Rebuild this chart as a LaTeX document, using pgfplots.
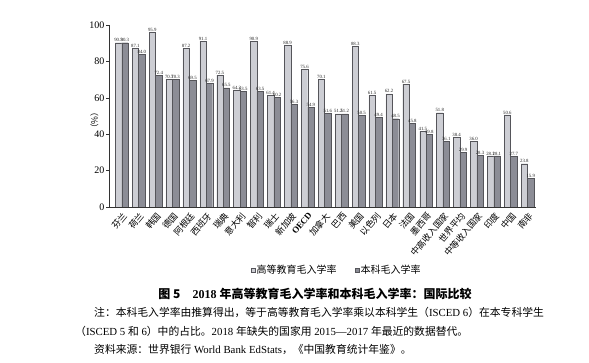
\documentclass[border=0pt]{standalone}
\usepackage{fontspec}
\setmainfont{Liberation Serif}
\newfontfamily\cjk{Noto Sans CJK SC}
\usepackage{pgfplots}
\pgfplotsset{compat=1.18}
\usepackage{pgfplotstable}
\definecolor{lightbar}{RGB}{205,206,212}
\definecolor{darkbar}{RGB}{140,141,150}
\definecolor{edge}{RGB}{85,85,90}
\pgfplotsset{/pgf/number format/assume math mode=true}
\pgfplotstableread{
x a b
0 90.3 90.3
1 87.1 84.0
2 95.9 72.4
3 70.3 70.3
4 87.2 69.5
5 91.1 67.9
6 72.5 65.5
7 64.3 63.5
8 90.9 63.5
9 61.4 60.2
10 88.9 56.3
11 75.6 54.9
12 70.1 51.6
13 51.2 51.2
14 88.3 50.5
15 61.5 49.4
16 62.2 48.5
17 67.5 45.8
18 41.5 39.8
19 51.8 36.1
20 38.4 29.9
21 36.0 28.3
22 28.1 28.1
23 50.6 27.7
24 23.8 15.9
}\data
\begin{document}
\begin{tikzpicture}
\path[use as bounding box] (0,0) rectangle (589pt,-363pt);
\begin{axis}[
  at={(109pt,-207pt)}, anchor=south west,
  scale only axis, width=427pt, height=182pt,
  xmin=-0.75, xmax=24.5, ymin=0, ymax=100,
  axis lines*=left,
  axis line style={line width=0.5pt, draw=black!80},
  ybar, bar width=0.38,
  xtick={0,...,24},
  xticklabels={芬兰,荷兰,韩国,德国,阿根廷,西班牙,瑞典,意大利,智利,瑞士,新加坡,{\rmfamily\bfseries OECD},加拿大,巴西,美国,以色列,日本,法国,墨西哥,中高收入国家,世界平均,中等收入国家,印度,中国,南非},
  x tick label style={rotate=50, anchor=north east, font=\cjk\fontsize{8.8}{9}\selectfont, inner sep=1pt},
  xtick style={draw=none},
  ytick={0,20,...,100},
  y tick label style={font=\fontsize{10}{11}\selectfont, inner sep=1.5pt},
  tick align=outside, major tick length=3pt,
  ytick style={draw=black!80},
  ylabel={\cjk（\%）},
  ylabel style={at={(axis description cs:-0.034,0.476)}, anchor=center, font=\fontsize{8.5}{9}\selectfont},
  nodes near coords,
  nodes near coords style={font=\fontsize{4.8}{5.5}\selectfont, inner sep=0.6pt, text=black!85,
    /pgf/number format/.cd, fixed, fixed zerofill, precision=1},
  legend columns=2,
  legend style={at={(axis description cs:0.532,-0.346)}, anchor=center, draw=none,
    font=\cjk\fontsize{10}{11}\selectfont, inner sep=1pt,
    nodes={inner sep=1pt},
    /tikz/every even column/.append style={column sep=17pt}},
  legend image code/.code={\draw[#1, line width=0.3pt] (0pt,-2.3pt) rectangle (4.6pt,2.3pt);},
]
\addplot[fill=lightbar, draw=edge, line width=0.3pt, bar shift=-0.19] table[x=x,y=a]{\data};
\addplot[fill=darkbar, draw=edge, line width=0.3pt, bar shift=0.19] table[x=x,y=b]{\data};
\legend{高等教育毛入学率,本科毛入学率}
\end{axis}
\node[font=\fontsize{12}{14}\selectfont\bfseries] at (315pt,-294pt) {{\cjk 图 5}\quad 2018 {\cjk 年高等教育毛入学率和本科毛入学率：国际比较}};
\node[anchor=west, font=\fontsize{10.8}{12}\selectfont, inner sep=0pt] at (94pt,-312pt) {{\cjk 注：本科毛入学率由推算得出，等于高等教育毛入学率乘以本科学生（}ISCED 6{\cjk ）在本专科学生}};
\node[anchor=west, font=\fontsize{10.8}{12}\selectfont, inner sep=0pt] at (75pt,-331pt) {{\cjk （}ISCED 5 {\cjk 和} 6{\cjk ）中的占比。}2018 {\cjk 年缺失的国家用} 2015—2017 {\cjk 年最近的数据替代。}};
\node[anchor=west, font=\fontsize{10.8}{12}\selectfont, inner sep=0pt] at (94pt,-350pt) {{\cjk 资料来源：世界银行} World Bank EdStats{\cjk ，《中国教育统计年鉴》。}};
\end{tikzpicture}
\end{document}
